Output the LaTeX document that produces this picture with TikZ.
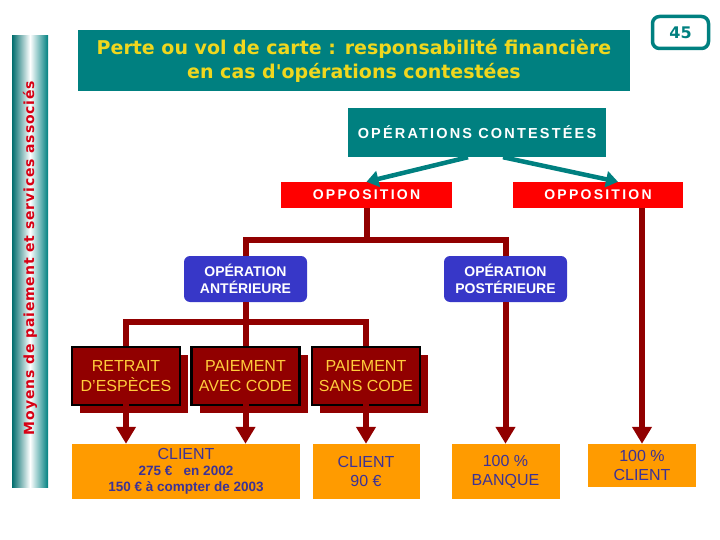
\documentclass[tikz,border=0pt]{standalone}
\usepackage{fontspec}
\setmainfont{Liberation Sans}
\newfontfamily\wideb{DejaVu Sans}
\usetikzlibrary{arrows.meta,shadows}
\definecolor{tealc}{RGB}{0,128,128}
\definecolor{titley}{RGB}{240,215,30}
\definecolor{redc}{RGB}{255,0,0}
\definecolor{darkr}{RGB}{145,0,0}
\definecolor{bluec}{RGB}{55,55,200}
\definecolor{orangec}{RGB}{255,155,0}
\definecolor{navyt}{RGB}{60,50,150}
\definecolor{boxtxt}{RGB}{255,205,60}
\definecolor{sidered}{RGB}{215,0,20}
\begin{document}
\begin{tikzpicture}[x=1pt,y=-1pt,
  tealbox/.style={fill=tealc,inner sep=0pt,align=center},
  oppbox/.style={fill=redc,inner sep=0pt,minimum height=26pt,text=white,font=\fontsize{14}{16}\selectfont\bfseries\addfontfeature{LetterSpace=16}},
  bluebox/.style={fill=bluec,rounded corners=6pt,inner sep=0pt,minimum width=123pt,minimum height=46pt,text=white,align=center,font=\fontsize{14}{17}\selectfont\bfseries},
  dredbox/.style={fill=darkr,draw=black,line width=2.5pt,inner sep=0pt,minimum width=108pt,minimum height=58pt,text=boxtxt,align=center,font=\fontsize{16}{20}\selectfont,
     drop shadow={shadow xshift=8pt,shadow yshift=-8pt,fill=darkr,opacity=1}},
  orbox/.style={fill=orangec,inner sep=0pt,text=navyt,align=center,font=\fontsize{16}{19}\selectfont},
  conn/.style={draw=darkr,line width=6pt},
  connarrow/.style={conn,-{Triangle[width=19pt,length=17pt]}},
  tealarrow/.style={draw=tealc,line width=4.5pt,-{Triangle[width=16pt,length=12pt]}}
]
\useasboundingbox (0,0) rectangle (720,540);
% side bar
\shade[left color=tealc!85!black,right color=tealc,middle color=white] (12,36) rectangle (48,487);
\node[rotate=90,text=sidered,font=\wideb\fontsize{14}{16}\selectfont\bfseries\addfontfeature{LetterSpace=6}] (side) at (30,258) {Moyens de paiement et services associés};
% title
\node[tealbox,minimum width=552pt,minimum height=61pt,text=titley,font=\wideb\fontsize{19}{24}\selectfont\bfseries] (title) at (354,60.5) {Perte ou vol de carte : responsabilité financière\\en cas d{\char"0027}opérations contestées};
\node[draw=tealc,line width=3.5pt,rounded corners=7pt,minimum width=56pt,minimum height=32pt,inner sep=0pt,text=tealc,font=\wideb\fontsize{16}{20}\selectfont\bfseries] (num) at (680.5,32.5) {45};
% level 1
\node[tealbox,minimum width=258pt,minimum height=49pt,text=white,font=\fontsize{14.5}{16}\selectfont\bfseries\addfontfeature{LetterSpace=15}] (contest) at (477,132.5) {OPÉRATIONS CONTESTÉES};
\node[oppbox,minimum width=171pt] (oppL) at (366.5,195) {OPPOSITION};
\node[oppbox,minimum width=170pt] (oppR) at (598,195) {OPPOSITION};
\draw[tealarrow] ([xshift=-9pt]contest.south) -- (oppL.north);
\draw[tealarrow] ([xshift=26pt]contest.south) -- ([xshift=20pt]oppR.north);
% level 2
\node[bluebox] (ant) at (245.5,279) {OPÉRATION\\ANTÉRIEURE};
\node[bluebox] (post) at (505.5,279) {OPÉRATION\\POSTÉRIEURE};
\coordinate (j1) at (366.5,240);
% level 3
\node[dredbox] (retrait) at (126,376) {RETRAIT\\D’ESPÈCES};
\node[dredbox] (avec) at (245.5,376) {PAIEMENT\\AVEC CODE};
\node[dredbox] (sans) at (366,376) {PAIEMENT\\SANS CODE};
\coordinate (j2) at (245.5,322);
% level 4
\node[orbox,minimum width=228pt,minimum height=55pt] (client1) at (186,471.5) {CLIENT\\[-3pt]{\fontsize{13.5}{17}\selectfont\bfseries 275 €\ \ \ en 2002}\\[-3pt]{\fontsize{13.5}{17}\selectfont\bfseries 150 € à compter de 2003}};
\node[orbox,minimum width=107pt,minimum height=55pt] (client2) at (366,471.5) {CLIENT\\90 €};
\node[orbox,minimum width=108pt,minimum height=55pt] (banque) at (505.5,471.5) {100 \%\\BANQUE};
\node[orbox,minimum width=108pt,minimum height=43pt] (client3) at (642,465.5) {100 \%\\CLIENT};
% connectors
\draw[conn] (oppL.south) -- (j1);
\draw[conn] (ant.north) |- (j1) -| (post.north);
\draw[conn] (ant.south) -- (j2);
\draw[conn] (retrait.north) |- (j2) -| (sans.north);
\draw[conn] (j2) -- (avec.north);
\draw[connarrow] ([yshift=8pt]retrait.south) -- (retrait.south |- client1.north);
\draw[connarrow] ([yshift=8pt]avec.south) -- (avec.south |- client1.north);
\draw[connarrow] ([yshift=8pt]sans.south) -- (client2.north);
\draw[connarrow] (post.south) -- (banque.north);
\draw[connarrow] (client3.north |- oppR.south) -- (client3.north);
\end{tikzpicture}
\end{document}
